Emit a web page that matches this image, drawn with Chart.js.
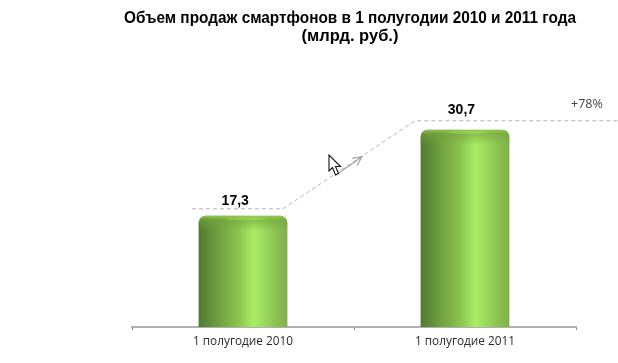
<!DOCTYPE html>
<html>
<head>
<meta charset="utf-8">
<script src="https://cdn.jsdelivr.net/npm/chart.js@4"></script>
<style>
  html, body { margin: 0; padding: 0; background: #fff; }
  #wrap { width: 618px; height: 363px; }
</style>
</head>
<body>
<div id="wrap"><canvas id="chart"></canvas></div>
<script>
// Daten
const categories = ['1 полугодие 2010', '1 полугодие 2011'];
const salesValues = [17.3, 30.7];
const valueLabels = ['17,3', '30,7'];
const titleLines = ['Объем продаж смартфонов в 1 полугодии 2010 и 2011 года', '(млрд. руб.)'];
const growthLabel = '+78%';

// Position der Wertbeschriftungen (Kategorie-Einheiten / Achsenwert)
const labelX = [-0.035, 0.984];
const labelY = [19.0, 33.2];

// gestrichelte Trendlinie (x in Kategorie-Einheiten)
const trendX = [-0.23, 0.18, 0.775, 1.69];
const trendY = [18.4, 18.4, 32.1, 32.1];
// Pfeil auf der Diagonale
const arrowX = [0.428, 0.536];
const arrowY = [23.9, 26.5];

const barShare = 0.4;

function barFill(context) {
  const { chart, dataIndex } = context;
  const xScale = chart.scales.x;
  if (!xScale || !chart.chartArea) return '#8cc04f';
  const half = (chart.chartArea.width / categories.length) * barShare / 2;
  const mid = xScale.getPixelForValue(dataIndex);
  const g = chart.ctx.createLinearGradient(mid - half, 0, mid + half, 0);
  g.addColorStop(0, '#4f7a32');
  g.addColorStop(0.2, '#6c9c3e');
  g.addColorStop(0.45, '#8cc44f');
  g.addColorStop(0.62, '#a9ee66');
  g.addColorStop(0.85, '#8fc553');
  g.addColorStop(1, '#7fb04a');
  return g;
}

// Werte, Kappe oben am Balken, Prozent und Mauszeiger
const overlayPlugin = {
  id: 'overlay',
  afterDatasetsDraw(chart) {
    const { ctx, scales } = chart;
    const bars = chart.getDatasetMeta(0).data;
    ctx.save();

    bars.forEach((bar, i) => {
      const half = bar.width / 2;
      const cap = ctx.createLinearGradient(0, bar.y, 0, bar.y + 15);
      cap.addColorStop(0, 'rgba(150,205,85,0.9)');
      cap.addColorStop(0.3, 'rgba(115,165,60,0.6)');
      cap.addColorStop(1, 'rgba(115,165,60,0)');
      ctx.fillStyle = cap;
      ctx.beginPath();
      ctx.roundRect(bar.x - half, bar.y, bar.width, 15, [7, 7, 0, 0]);
      ctx.fill();

      // heller Streifen oben
      ctx.fillStyle = 'rgba(175,235,105,0.3)';
      ctx.beginPath();
      ctx.ellipse(bar.x + 3, bar.y + 3, half * 0.45, 1.6, 0, 0, Math.PI * 2);
      ctx.fill();

      ctx.fillStyle = '#000';
      ctx.font = 'bold 14px "Liberation Sans"';
      ctx.textAlign = 'center';
      ctx.textBaseline = 'alphabetic';
      ctx.fillText(valueLabels[i], scales.x.getPixelForValue(labelX[i]), scales.y.getPixelForValue(labelY[i]));
    });

    ctx.fillStyle = '#444';
    ctx.font = '12.5px "Open Sans"';
    ctx.textAlign = 'left';
    ctx.fillText(growthLabel, 571, 108);

    // Pfeil
    const x0 = scales.x.getPixelForValue(arrowX[0]);
    const y0 = scales.y.getPixelForValue(arrowY[0]);
    const x1 = scales.x.getPixelForValue(arrowX[1]);
    const y1 = scales.y.getPixelForValue(arrowY[1]);
    const ang = Math.atan2(y1 - y0, x1 - x0);
    ctx.strokeStyle = '#a6a6a6';
    ctx.lineWidth = 1.3;
    ctx.beginPath();
    ctx.moveTo(x0, y0);
    ctx.lineTo(x1, y1);
    ctx.moveTo(x1 - 10 * Math.cos(ang - 0.45), y1 - 10 * Math.sin(ang - 0.45));
    ctx.lineTo(x1, y1);
    ctx.lineTo(x1 - 10 * Math.cos(ang + 0.45), y1 - 10 * Math.sin(ang + 0.45));
    ctx.stroke();

    // Mauszeiger
    ctx.translate(329, 155);
    ctx.fillStyle = '#fff';
    ctx.strokeStyle = '#111';
    ctx.lineWidth = 1.1;
    ctx.beginPath();
    ctx.moveTo(0, 0);
    ctx.lineTo(0, 16);
    ctx.lineTo(3.5, 12.5);
    ctx.lineTo(6.5, 20);
    ctx.lineTo(9.5, 18.5);
    ctx.lineTo(6.5, 11.5);
    ctx.lineTo(11.5, 11.5);
    ctx.closePath();
    ctx.fill();
    ctx.stroke();
    ctx.restore();
  }
};

new Chart(document.getElementById('chart'), {
  type: 'bar',
  data: {
    labels: categories,
    datasets: [
      {
        data: salesValues,
        backgroundColor: barFill,
        borderRadius: { topLeft: 7, topRight: 7, bottomLeft: 0, bottomRight: 0 },
        borderSkipped: false,
        categoryPercentage: barShare,
        barPercentage: 1,
        order: 2
      },
      {
        type: 'line',
        parsing: false,
        normalized: true,
        data: trendX.map((x, i) => ({ x: x, y: trendY[i] })),
        borderColor: '#b5b5b5',
        borderWidth: 1,
        borderDash: [4, 3],
        pointRadius: 0,
        tension: 0,
        clip: false,
        order: 1
      }
    ]
  },
  plugins: [overlayPlugin],
  options: {
    responsive: true,
    maintainAspectRatio: false,
    animation: false,
    layout: { padding: { left: 124, right: 42, top: 9, bottom: 0 } },
    plugins: {
      legend: { display: false },
      tooltip: { enabled: false },
      title: {
        display: true,
        text: titleLines,
        color: '#000',
        font: { family: '"Liberation Sans"', size: 16.5, weight: 'bold', lineHeight: 1.09 },
        padding: { top: 0, bottom: 25 }
      }
    },
    scales: {
      x: {
        grid: { display: true, drawOnChartArea: false, drawTicks: true, tickLength: 3, color: '#8a8a8a' },
        border: { display: true, color: '#b0b0b0', width: 2 },
        ticks: { color: '#2a2a2a', font: { family: '"Open Sans"', size: 11.8 }, padding: 5, maxRotation: 0 },
        afterFit(axis) { axis.height = 36; }
      },
      y: {
        min: 0,
        max: 40,
        grid: { display: false },
        border: { display: false },
        ticks: { display: false },
        afterFit(axis) { axis.width = 8; }
      }
    }
  }
});
</script>
</body>
</html>
